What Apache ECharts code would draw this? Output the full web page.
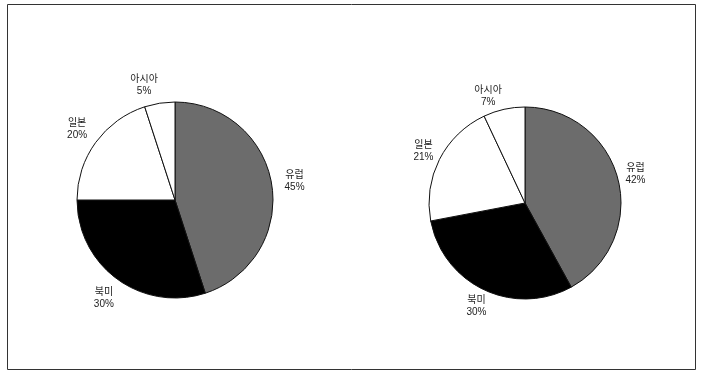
<!DOCTYPE html>
<html>
<head>
<meta charset="utf-8">
<script src="https://cdn.jsdelivr.net/npm/echarts@6/dist/echarts.min.js"></script>
<style>
  html, body { margin: 0; padding: 0; background: #fff; }
  #chart { width: 705px; height: 372px; }
</style>
</head>
<body>
<div id="chart"></div>
<script>
// Regional shares (%) for the two periods
const regions = ['유럽', '북미', '일본', '아시아'];
const sharesLeft = [45, 30, 20, 5];
const sharesRight = [42, 30, 21, 7];
const sliceColors = ['#6c6c6c', '#000000', '#ffffff', '#ffffff'];

function toData(values) {
  return regions.map((name, i) => ({
    name: name,
    value: values[i],
    itemStyle: { color: sliceColors[i] }
  }));
}

const labelFont = {
  fontFamily: '"Liberation Sans", "Noto Sans CJK KR", sans-serif',
  fontSize: 10,
  lineHeight: 12,
  color: '#222'
};

// Filled pie with black outlines, clockwise from 12 o'clock
function pieSeries(values, center, r) {
  return {
    type: 'pie',
    center: center,
    radius: r,
    startAngle: 90,
    clockwise: true,
    silent: true,
    label: { show: false },
    labelLine: { show: false },
    itemStyle: { borderColor: '#111', borderWidth: 1 },
    emphasis: { disabled: true },
    data: toData(values)
  };
}

// Invisible ring whose inner labels sit just outside each slice;
// the narrow last slice gets its label nudged left so it clears the top edge
function labelRing(values, center, innerR, outerR) {
  return {
    type: 'pie',
    center: center,
    radius: [innerR, outerR],
    startAngle: 90,
    clockwise: true,
    silent: true,
    itemStyle: { color: 'transparent', borderWidth: 0 },
    label: Object.assign({
      show: true,
      position: 'inside',
      formatter: p => p.name + '\n' + p.value + '%'
    }, labelFont),
    labelLine: { show: false },
    labelLayout: p => (p.dataIndex === regions.length - 1 ? { dx: -12, dy: 5 } : {}),
    emphasis: { disabled: true },
    data: regions.map((name, i) => ({ name: name, value: values[i] }))
  };
}

const chart = echarts.init(document.getElementById('chart'), null, { renderer: 'canvas' });
chart.setOption({
  backgroundColor: '#ffffff',
  animation: false,
  graphic: [{
    type: 'rect',
    shape: { x: 7.5, y: 4.5, width: 688, height: 365 },
    style: { fill: 'none', stroke: '#333', lineWidth: 1 },
    silent: true
  }],
  series: [
    pieSeries(sharesLeft, [175, 200], 98),
    labelRing(sharesLeft, [175, 200], 106, 130),
    pieSeries(sharesRight, [525, 203], 96),
    labelRing(sharesRight, [525, 203], 100, 122)
  ]
});
</script>
</body>
</html>
